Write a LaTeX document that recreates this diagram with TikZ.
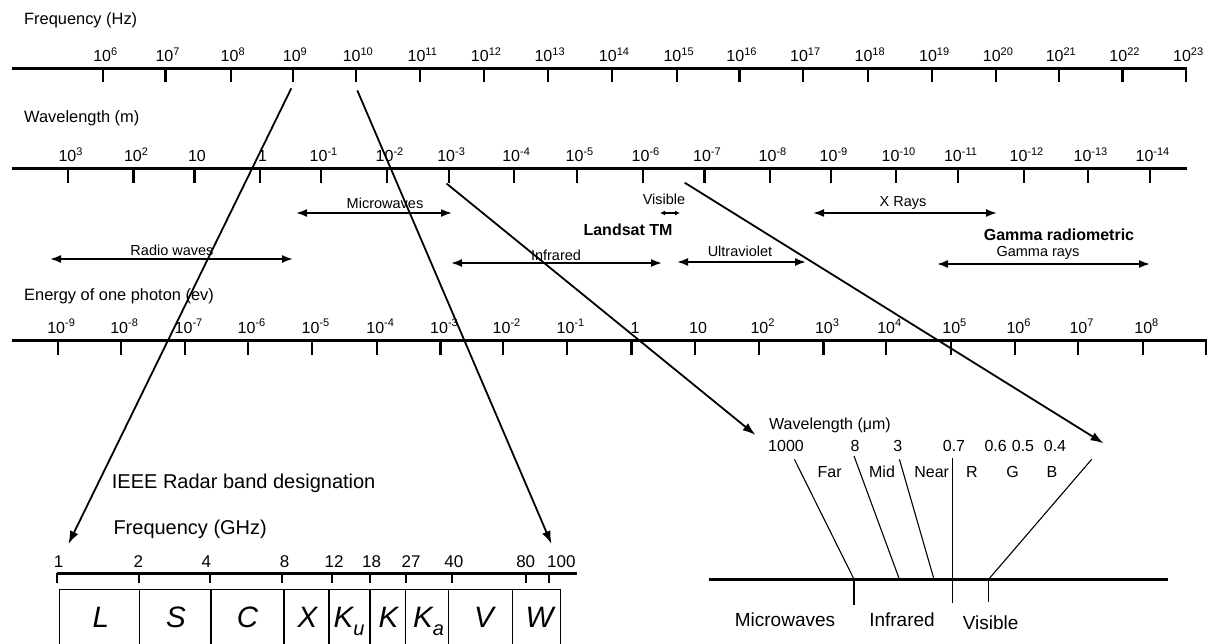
\documentclass[tikz,border=0pt]{standalone}
\usepackage{fontspec}
\setmainfont{Liberation Sans}
\usetikzlibrary{arrows.meta}
\newcommand{\fsz}[1]{\fontsize{#1}{#1}\selectfont}
\newcommand{\pwr}[1]{10\raisebox{0.42em}{\fsz{11}#1}}
\newcommand{\subl}[1]{\raisebox{-0.28em}{\fsz{20}#1}}

\tikzset{
  axisline/.style={line width=3pt},
  tickline/.style={line width=2.2pt},
  title/.style={anchor=west, inner sep=0pt, font=\fsz{16.4}},
  ticklab/.style={anchor=base, inner sep=0pt, font=\fsz{16}},
  bandlab/.style={inner sep=0pt, font=\fsz{14.5}},
  boldlab/.style={inner sep=0pt, font=\bfseries\fsz{16}},
  span/.style={line width=1.8pt, {Latex[length=11pt,width=8pt]}-{Latex[length=11pt,width=8pt]}},
  smallspan/.style={line width=1.2pt, {Latex[length=5pt,width=5pt]}-{Latex[length=5pt,width=5pt]}},
  pointer/.style={line width=1.8pt, -{Latex[length=13pt,width=9pt]}},
  thinline/.style={line width=1.1pt},
  numlab/.style={anchor=base, inner sep=0pt, font=\fsz{17}},
  bandletter/.style={anchor=base, inner sep=0pt, font=\itshape\fsz{29.5}},
  radarbox/.style={line width=1.1pt},
  umlab/.style={anchor=base, inner sep=0pt, font=\fsz{16}},
  bigtitle/.style={anchor=west, inner sep=0pt, font=\fsz{20}},
  regionlab/.style={anchor=base, inner sep=0pt, font=\fsz{19}}
}

\begin{document}
\begin{tikzpicture}[x=1pt,y=-1pt]
\useasboundingbox (0,0) rectangle (1218,644);
\clip (0,0) rectangle (1218,644);

% ---------- frequency scale ----------
\node[title] (ftitle) at (24,20.5) {Frequency (Hz)};
\draw[axisline] (11.7,69) -- (1187,69);
\foreach \x/\e [count=\i] in {103.3/6,165.5/7,230.7/8,292.9/9,355.8/10,420.3/11,484/12,547.6/13,612/14,676.6/15,739.5/16,803.2/17,867.7/18,932.2/19,995.9/20,1058.8/21,1122.5/22,1186.2/23}{
  \draw[tickline] (\x,69) -- (\x,82);
  \node[ticklab] (fl\i) at (\x+2,62) {\pwr{\e}};
}

% ---------- wavelength scale ----------
\node[title] (wtitle) at (24,118) {Wavelength (m)};
\draw[axisline] (11.7,169) -- (1187,169);
\foreach \x/\t [count=\i] in {68/\pwr{3},133.5/\pwr{2},194.5/10,260/1,321/\pwr{-1},387/\pwr{-2},448.6/\pwr{-3},513.6/\pwr{-4},577/\pwr{-5},643/\pwr{-6},704.5/\pwr{-7},770/\pwr{-8},831/\pwr{-9},896/\pwr{-10},958/\pwr{-11},1024/\pwr{-12},1088/\pwr{-13},1150/\pwr{-14}}{
  \draw[tickline] (\x,169) -- (\x,183);
  \node[ticklab] (wl\i) at (\x+2.5,162) {\t};
}

% ---------- spectral regions ----------
\node[bandlab] (mw) at (385,203) {Microwaves};
\coordinate (mwL) at (296,213); \coordinate (mwR) at (452,213);
\draw[span] (mwL) -- (mwR);

\node[bandlab] (vis) at (664,199) {Visible};
\coordinate (visL) at (660,213); \coordinate (visR) at (680,213);
\draw[smallspan] (visL) -- (visR);

\node[bandlab] (xr) at (903,203) {X Rays};
\coordinate (xrL) at (813,213); \coordinate (xrR) at (997,213);
\draw[span] (xrL) -- (xrR);

\node[boldlab] (lsat) at (628,230) {Landsat TM};
\node[boldlab] (grad) at (1059,235) {Gamma radiometric};

\node[bandlab] (rw) at (172,250) {Radio waves};
\coordinate (rwL) at (50,259); \coordinate (rwR) at (293,259);
\draw[span] (rwL) -- (rwR);

\node[bandlab] (ir) at (556,255) {Infrared};
\coordinate (irL) at (451,263); \coordinate (irR) at (662,263);
\draw[span] (irL) -- (irR);

\node[bandlab] (uv) at (740,251) {Ultraviolet};
\coordinate (uvL) at (677,262); \coordinate (uvR) at (806,262);
\draw[span] (uvL) -- (uvR);

\node[bandlab] (gr) at (1038,253) {Gamma rays};
\coordinate (grL) at (937,264); \coordinate (grR) at (1150,264);
\draw[span] (grL) -- (grR);

% ---------- photon energy scale ----------
\node[title] (etitle) at (24,296) {Energy of one photon (ev)};
\draw[axisline] (11.7,340.5) -- (1207,340.5);
\foreach \x/\t [count=\i] in {57.6/\pwr{-9},120.6/\pwr{-8},185/\pwr{-7},248/\pwr{-6},312/\pwr{-5},376.7/\pwr{-4},440.5/\pwr{-3},503/\pwr{-2},567/\pwr{-1},631.5/1,694.6/10,759/\pwr{2},823.5/\pwr{3},885.8/\pwr{4},950.8/\pwr{5},1015/\pwr{6},1078/\pwr{7},1142.8/\pwr{8}}{
  \draw[tickline] (\x,340.5) -- (\x,355);
  \node[ticklab] (el\i) at (\x+3.5,333.3) {\t};
}
\draw[tickline] (1205.8,340.5) -- (1205.8,355);

% ---------- zoom pointers ----------
\coordinate (ra) at (291.3,88.3);  \coordinate (rat) at (68.4,544);
\coordinate (rb) at (357.3,90.4);  \coordinate (rbt) at (551.5,544);
\coordinate (oa) at (446.5,183.5); \coordinate (oat) at (755.5,435);
\coordinate (ob) at (684.7,182.7); \coordinate (obt) at (1103.5,443.3);
\draw[pointer] (ra) -- (rat);
\draw[pointer] (rb) -- (rbt);
\draw[pointer] (oa) -- (oat);
\draw[pointer] (ob) -- (obt);

% ---------- IEEE radar bands ----------
\node[bigtitle] (ieee) at (111.7,483) {IEEE Radar band designation};
\node[bigtitle] (ghz) at (113.3,529) {Frequency (GHz)};
\draw[axisline] (57.3,573) -- (577,573);
\foreach \x/\t [count=\i] in {58.5/1,138.3/2,206.3/4,284.6/8,334/12,371.5/18,411/27,453.8/40,525.7/80,561.3/100}{
  \node[numlab] (gn\i) at (\x,567) {\t};
}
\foreach \x in {57.3,138.8,209.8,282.4,331.5,369.6,406.4,451.8,525.7,549.4}{
  \draw[line width=2pt] (\x,573) -- (\x,583);
}
\foreach \a/\b in {59.3/139.3,139.3/211,211/284,284/329,329/370,370/405.5,405.5/448.6,448.6/512.6,512.6/560.5}{
  \draw[radarbox] (\a,589.3) rectangle (\b,660);
}
\node[bandletter] (bL) at (100.8,627) {L};
\node[bandletter] (bS) at (176,627) {S};
\node[bandletter] (bC) at (247.5,627) {C};
\node[bandletter] (bX) at (307.5,627) {X};
\node[bandletter] (bKu) at (349,627) {K\subl{u}};
\node[bandletter] (bK) at (388.5,627) {K};
\node[bandletter] (bKa) at (428.5,627) {K\subl{a}};
\node[bandletter] (bV) at (484,627) {V};
\node[bandletter] (bW) at (539.5,627) {W};

% ---------- optical wavelengths ----------
\node[anchor=west, inner sep=0pt, font=\fsz{16}] (umt) at (769,425) {Wavelength (μm)};
\foreach \x/\t [count=\i] in {786/1000,855/8,897.7/3,954/0.7,995.7/0.6,1023/0.5,1055/0.4}{
  \node[umlab] (um\i) at (\x,451) {\t};
}
\foreach \x/\t [count=\i] in {829.7/Far,882/Mid,931.7/Near,972/R,1012.6/G,1052/B}{
  \node[umlab] (ol\i) at (\x,477.5) {\t};
}
\draw[line width=2.7pt] (708.5,579.3) -- (1168,579.3);
\draw[thinline] (794.4,459.3) -- (854,579.3);
\draw[thinline] (854,456) -- (899.4,579.3);
\draw[thinline] (899.4,459.3) -- (934,579.3);
\draw[thinline] (952.6,458) -- (952.6,603.3);
\draw[thinline] (1091.7,459.3) -- (988.6,579.3);
\draw[thinline] (854,579.3) -- (854,605);
\draw[thinline] (988.6,579.3) -- (988.6,601.7);
\node[regionlab] (rmw) at (785,626) {Microwaves};
\node[regionlab] (rir) at (902,626) {Infrared};
\node[regionlab] (rvis) at (990.7,629.5) {Visible};
\end{tikzpicture}
\end{document}
